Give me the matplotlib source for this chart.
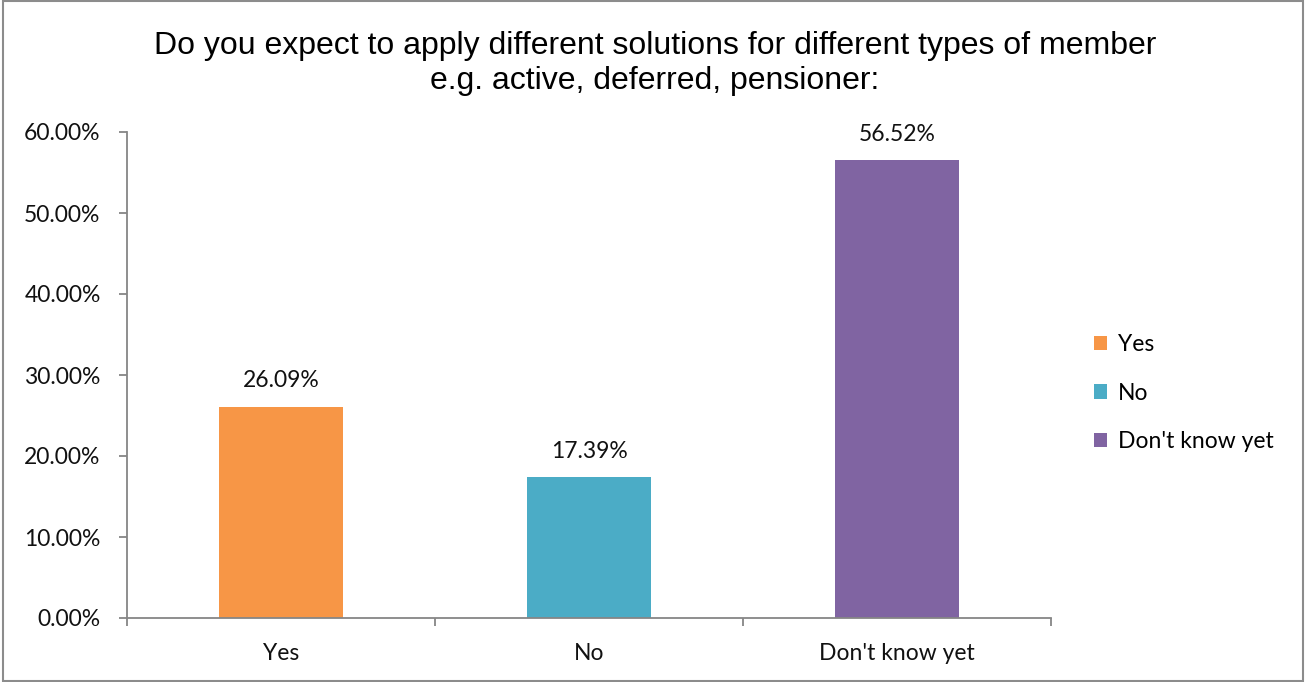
import matplotlib.pyplot as plt
from matplotlib.patches import Rectangle
from matplotlib.ticker import PercentFormatter

categories = ['Yes', 'No', "Don't know yet"]
values = [0.2609, 0.1739, 0.5652]
colors = ['#F79646', '#4BACC6', '#8064A2']
yticks = [0.0, 0.1, 0.2, 0.3, 0.4, 0.5, 0.6]

axis_grey = '#868686'
label_font = ['Lato', 'DejaVu Sans']
fs = 16.5

fig = plt.figure(figsize=(13.06, 6.82), dpi=100)
ax = fig.add_axes([127 / 1306, 1 - 618 / 682, (1051 - 127) / 1306, (618 - 132) / 682])

x = list(range(len(categories)))
bars = ax.bar(x, values, width=0.4, color=colors, label=categories, zorder=2)

for xi, v in zip(x, values):
    ax.annotate(f'{v * 100:.2f}%', (xi, v), xytext=(0, 11), textcoords='offset points',
                ha='center', va='bottom', fontsize=fs, family=label_font, color='#111111')

ax.set_xlim(-0.5, len(categories) - 0.5)
ax.set_ylim(0, 0.6)
ax.set_yticks(yticks)
ax.yaxis.set_major_formatter(PercentFormatter(1.0, decimals=2))

# category labels centred, ticks at category boundaries
ax.set_xticks(x)
ax.set_xticklabels(categories)
ax.tick_params(axis='x', length=0, pad=18)
ax.set_xticks([i - 0.5 for i in range(len(categories) + 1)], minor=True)
ax.tick_params(axis='x', which='minor', length=6, color=axis_grey, width=1.3, direction='out')
ax.tick_params(axis='y', length=6, color=axis_grey, width=1.3, direction='out', pad=13)

for lbl in ax.get_xticklabels() + ax.get_yticklabels():
    lbl.set_family(label_font)
    lbl.set_fontsize(fs)
    lbl.set_color('#111111')

for side in ['top', 'right']:
    ax.spines[side].set_visible(False)
for side in ['left', 'bottom']:
    ax.spines[side].set_color(axis_grey)
    ax.spines[side].set_linewidth(1.3)

fig.text(0.5015, 1 - 46 / 682, 'Do you expect to apply different solutions for different types of member',
         ha='center', va='center', fontsize=23, family='Liberation Sans')
fig.text(0.5015, 1 - 81 / 682, 'e.g. active, deferred, pensioner:',
         ha='center', va='center', fontsize=23, family='Liberation Sans')

leg = fig.legend(handles=bars.patches, labels=categories, loc='center left',
                 bbox_to_anchor=(1073 / 1306, 1 - 393 / 682), frameon=False,
                 prop={'family': label_font, 'size': fs}, handlelength=0.6, handleheight=0.6,
                 handletextpad=0.45, labelspacing=1.2)

# outer chart frame
fig.patches.append(Rectangle((0.002, 0.002), 0.996, 0.996, transform=fig.transFigure,
                             fill=False, edgecolor='#8c8c8c', linewidth=1.5))

fig.savefig('out.png', dpi=100)
